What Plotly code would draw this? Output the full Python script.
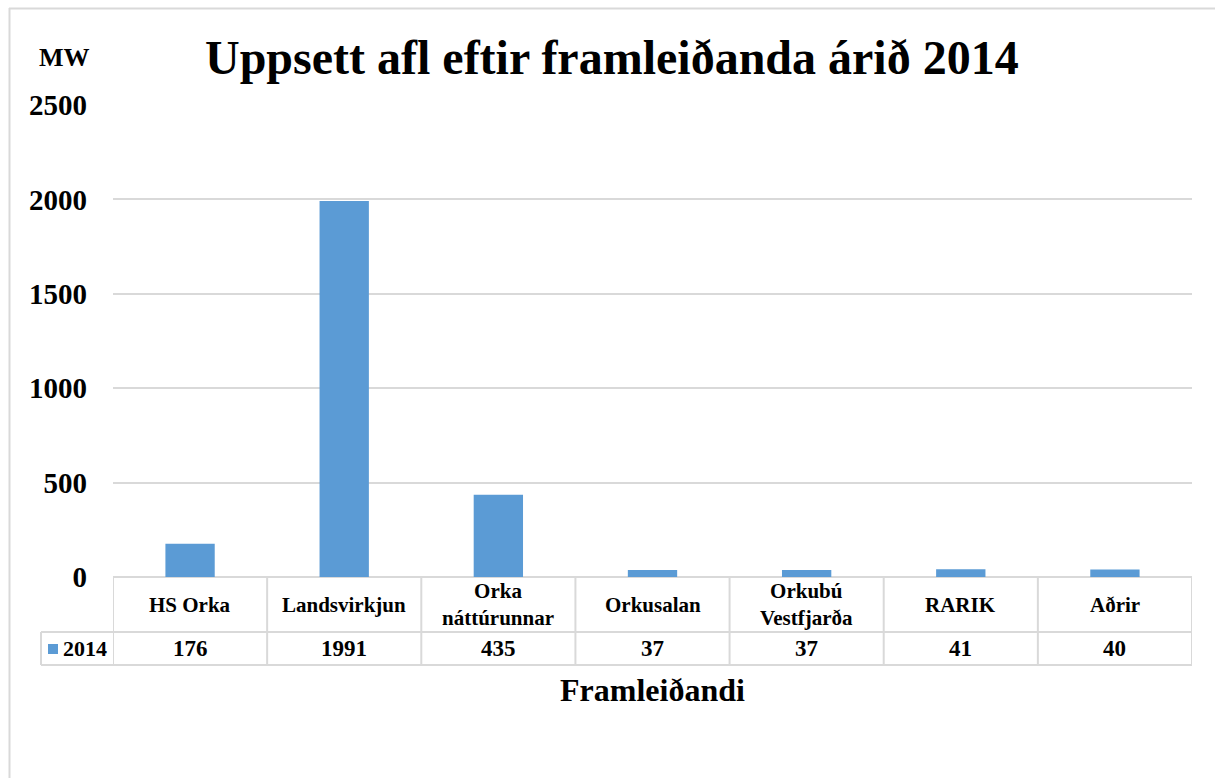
import plotly.graph_objects as go

categories = ["HS Orka", "Landsvirkjun", "Orka<br>náttúrunnar", "Orkusalan",
              "Orkubú<br>Vestfjarða", "RARIK", "Aðrir"]
values_2014 = [176, 1991, 435, 37, 37, 41, 40]
series_name = "2014"
y_ticks = [0, 500, 1000, 1500, 2000, 2500]
title_text = "Uppsett afl eftir framleiðanda árið 2014"
x_title = "Framleiðandi"
y_unit = "MW"

W, H = 1215, 778
L, R, T, B = 113, 1192, 105, 577
BAR = "#5b9bd5"
GRID = "#d9d9d9"
FONT = "Liberation Serif"


def px(x):
    return (x - L) / (R - L)


def py(y):
    return (B - y) / (B - T)


n = len(categories)
xs = list(range(n))

fig = go.Figure()
fig.add_trace(go.Bar(x=xs, y=values_2014, marker=dict(color=BAR, line=dict(width=0)),
                     width=0.32, name=series_name, showlegend=False, hoverinfo="y"))

shapes = []
# outer frame
shapes.append(dict(type="line", xref="paper", yref="paper", x0=px(9), x1=px(1216),
                   y0=py(8.5), y1=py(8.5), line=dict(color=GRID, width=2)))
shapes.append(dict(type="line", xref="paper", yref="paper", x0=px(9.5), x1=px(9.5),
                   y0=py(8), y1=py(780), line=dict(color=GRID, width=2)))
# table horizontal lines
row1, row2 = 632, 665
for yy, x0 in [(row1, 41), (row2, 41)]:
    shapes.append(dict(type="line", xref="paper", yref="paper", x0=px(x0), x1=px(R),
                       y0=py(yy), y1=py(yy), line=dict(color=GRID, width=2)))
# table vertical lines
shapes.append(dict(type="line", xref="paper", yref="paper", x0=px(41), x1=px(41),
                   y0=py(row1), y1=py(row2), line=dict(color=GRID, width=2)))
for k in range(n + 1):
    xv = k - 0.5
    shapes.append(dict(type="line", xref="x", yref="paper", x0=xv, x1=xv,
                       y0=py(B), y1=py(row2), line=dict(color=GRID, width=2)))
# legend key square
shapes.append(dict(type="rect", xref="paper", yref="paper", x0=px(48), x1=px(58),
                   y0=py(654), y1=py(644), fillcolor=BAR, line=dict(width=0)))

ann = []
for i, (c, v) in enumerate(zip(categories, values_2014)):
    ann.append(dict(x=i, y=py(604.5), xref="x", yref="paper", text=f"<b>{c}</b>",
                    showarrow=False, font=dict(family=FONT, size=21, color="black"),
                    xanchor="center", yanchor="middle"))
    ann.append(dict(x=i, y=py(648.5), xref="x", yref="paper", text=f"<b>{v}</b>",
                    showarrow=False, font=dict(family=FONT, size=23, color="black"),
                    xanchor="center", yanchor="middle"))
ann.append(dict(x=px(61), y=py(648.5), xref="paper", yref="paper", text=f"<b>{series_name}</b>",
                showarrow=False, font=dict(family=FONT, size=22, color="black"),
                xanchor="left", yanchor="middle"))
ann.append(dict(x=px(612), y=py(57), xref="paper", yref="paper", text=f"<b>{title_text}</b>",
                showarrow=False, font=dict(family=FONT, size=48, color="black"),
                xanchor="center", yanchor="middle"))
ann.append(dict(x=px(64), y=py(57), xref="paper", yref="paper", text=f"<b>{y_unit}</b>",
                showarrow=False, font=dict(family=FONT, size=26, color="black"),
                xanchor="center", yanchor="middle"))
ann.append(dict(x=px(652), y=py(690), xref="paper", yref="paper", text=f"<b>{x_title}</b>",
                showarrow=False, font=dict(family=FONT, size=32, color="black"),
                xanchor="center", yanchor="middle"))

fig.update_layout(
    width=W, height=H,
    margin=dict(l=L, r=W - R, t=T, b=H - B, pad=0),
    paper_bgcolor="white", plot_bgcolor="white",
    shapes=shapes, annotations=ann,
    xaxis=dict(range=[-0.5, n - 0.5], showticklabels=False, showgrid=False,
               zeroline=False, showline=False, fixedrange=True),
    yaxis=dict(range=[0, 2500], tickvals=y_ticks, ticktext=[f"<b>{t}</b>" for t in y_ticks],
               showgrid=True, gridcolor=GRID, gridwidth=1.5, zeroline=True,
               zerolinecolor=GRID, zerolinewidth=2, showline=False,
               tickfont=dict(family=FONT, size=29, color="black"),
               ticks="", ticklabelstandoff=25, fixedrange=True),
    bargap=0.68,
)

fig.write_html("out.html", config={"displayModeBar": False},
               post_script="document.body.style.margin='0';document.body.style.padding='0';")
